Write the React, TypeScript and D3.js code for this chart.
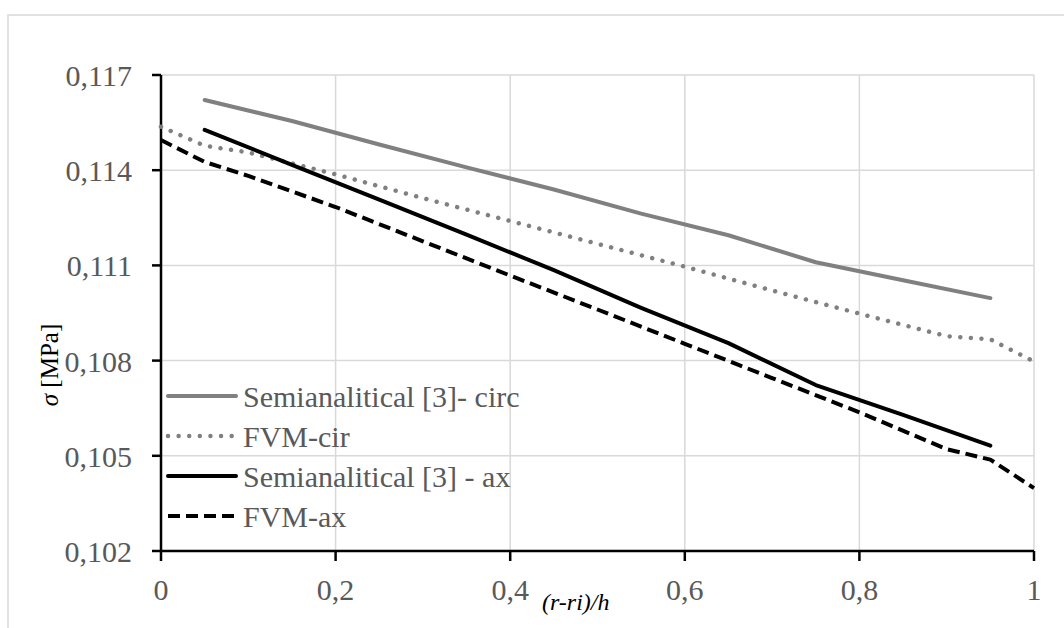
import React from "react";
import * as d3 from "d3";

// Radial position (normalised) and stress series
const xSemi = [0.05, 0.15, 0.25, 0.35, 0.45, 0.55, 0.65, 0.75, 0.85, 0.95];
const semiCirc = [0.11621, 0.11555, 0.11481, 0.11409, 0.11339, 0.11263, 0.11195, 0.1111, 0.11053, 0.10997];
const semiAx = [0.11527, 0.11417, 0.11307, 0.11197, 0.11085, 0.10966, 0.10855, 0.10723, 0.10629, 0.10532];

const xFvm = [0, 0.05, 0.1, 0.2, 0.3, 0.4, 0.5, 0.6, 0.7, 0.8, 0.9, 0.95, 1];
const fvmCir = [0.11537, 0.11477, 0.11456, 0.11387, 0.11312, 0.1124, 0.11168, 0.11096, 0.11021, 0.10948, 0.10877, 0.10867, 0.10797];
const fvmAx = [0.11495, 0.11426, 0.11382, 0.11284, 0.11176, 0.11068, 0.10961, 0.10853, 0.10745, 0.10637, 0.10521, 0.10488, 0.10398];

const yTicks = [0.102, 0.105, 0.108, 0.111, 0.114, 0.117];
const xTicks = [0, 0.2, 0.4, 0.6, 0.8, 1];

const seriesNames = [
  "Semianalitical [3]- circ",
  "FVM-cir",
  "Semianalitical [3] - ax",
  "FVM-ax",
];

const FONT = "'Liberation Serif', 'Times New Roman', serif";

export default function App() {
  const x = d3.scaleLinear().domain([0, 1]).range([161, 1034]);
  const y = d3.scaleLinear().domain([0.102, 0.117]).range([551, 75]);

  const line = d3
    .line<[number, number]>()
    .x((d) => x(d[0]))
    .y((d) => y(d[1]));

  const zip = (xs: number[], ys: number[]) =>
    xs.map((v, i) => [v, ys[i]] as [number, number]);

  const comma = (v: number, digits: number) =>
    v === 0 || v === 1 ? String(v) : v.toFixed(digits).replace(".", ",");

  const styles = [
    { stroke: "#808080", dash: undefined as string | undefined, cap: "round" },
    { stroke: "#808080", dash: "0.01,10.6", cap: "round" },
    { stroke: "#000000", dash: undefined, cap: "round" },
    { stroke: "#000000", dash: "12,6", cap: "butt" },
  ];

  const series = [
    zip(xSemi, semiCirc),
    zip(xFvm, fvmCir),
    zip(xSemi, semiAx),
    zip(xFvm, fvmAx),
  ];

  const legendY = [396, 436, 476, 516];

  return (
    <svg
      width={1064}
      height={628}
      style={{ position: "absolute", left: 0, top: 0, background: "#fff" }}
      fontFamily={FONT}
    >
      <rect x={0} y={0} width={1064} height={628} fill="#fff" />
      {/* chart frame */}
      <rect x={8} y={15} width={1200} height={800} fill="none" stroke="#d9d9d9" strokeWidth={1.5} />

      {/* gridlines */}
      {yTicks.slice(1).map((t) => (
        <line key={"gy" + t} x1={x(0)} x2={x(1)} y1={y(t)} y2={y(t)} stroke="#d9d9d9" strokeWidth={1.5} />
      ))}
      {xTicks.slice(1).map((t) => (
        <line key={"gx" + t} x1={x(t)} x2={x(t)} y1={y(0.117)} y2={y(0.102)} stroke="#d9d9d9" strokeWidth={1.5} />
      ))}

      {/* axes */}
      <line x1={x(0)} x2={x(0)} y1={y(0.117)} y2={y(0.102)} stroke="#000" strokeWidth={2.5} />
      <line x1={x(0)} x2={x(1)} y1={y(0.102)} y2={y(0.102)} stroke="#000" strokeWidth={2.5} />
      {yTicks.map((t) => (
        <g key={"ty" + t}>
          <line x1={x(0) - 9} x2={x(0)} y1={y(t)} y2={y(t)} stroke="#000" strokeWidth={2.5} />
          <text x={132} y={y(t) + 11} textAnchor="end" fontSize={30} fill="#595959">
            {comma(t, 3)}
          </text>
        </g>
      ))}
      {xTicks.map((t) => (
        <g key={"tx" + t}>
          <line x1={x(t)} x2={x(t)} y1={y(0.102)} y2={y(0.102) + 10} stroke="#000" strokeWidth={2.5} />
          <text x={x(t)} y={600} textAnchor="middle" fontSize={30} fill="#595959">
            {comma(t, 1)}
          </text>
        </g>
      ))}

      {/* axis titles */}
      <text x={542} y={610} fontSize={24} fontStyle="italic" fill="#000">
        (r-ri)/h
      </text>
      <text transform="translate(58,365) rotate(-90)" textAnchor="middle" fontSize={25} fill="#000">
        <tspan fontStyle="italic">σ</tspan>
        <tspan>{"  [MPa]"}</tspan>
      </text>

      {/* series */}
      {series.map((s, i) => (
        <path
          key={"s" + i}
          d={line(s) ?? ""}
          fill="none"
          stroke={styles[i].stroke}
          strokeWidth={i === 1 ? 4.5 : 4}
          strokeDasharray={styles[i].dash}
          strokeLinecap={styles[i].cap as any}
          strokeLinejoin="round"
        />
      ))}

      {/* legend */}
      {seriesNames.map((name, i) => (
        <g key={"lg" + i}>
          <line
            x1={168}
            x2={236}
            y1={legendY[i]}
            y2={legendY[i]}
            stroke={styles[i].stroke}
            strokeWidth={i === 1 ? 4.5 : 4}
            strokeDasharray={styles[i].dash}
            strokeLinecap={styles[i].cap as any}
          />
          <text x={243} y={legendY[i] + 10.5} fontSize={30} fill="#595959">
            {name}
          </text>
        </g>
      ))}
    </svg>
  );
}
